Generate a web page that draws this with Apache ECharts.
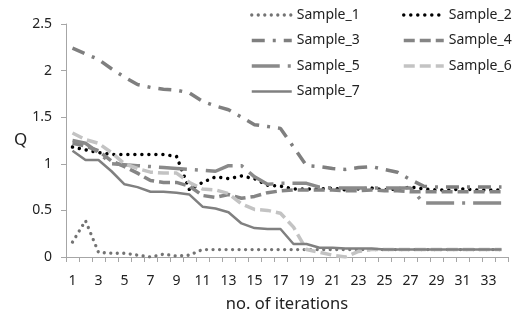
<!DOCTYPE html>
<html>
<head>
<meta charset="utf-8">
<script src="https://cdn.jsdelivr.net/npm/echarts@6/dist/echarts.min.js"></script>
<style>html,body{margin:0;padding:0;background:#fff}#c{width:522px;height:318px}</style>
</head>
<body>
<div id="c"></div>
<script>
const categories = ['1','2','3','4','5','6','7','8','9','10','11','12','13','14','15','16','17','18','19','20','21','22','23','24','25','26','27','28','29','30','31','32','33','34'];
const sample1 = [0.16,0.39,0.05,0.04,0.04,0.02,0.00,0.03,0.01,0.02,0.08,0.08,0.08,0.08,0.08,0.08,0.08,0.08,0.08,0.08,0.08,0.08,0.08,0.08,0.08,0.08,0.08,0.08,0.08,0.08,0.08,0.08,0.08,0.08];
const sample2 = [1.18,1.15,1.12,1.10,1.10,1.10,1.10,1.10,1.08,0.72,0.80,0.86,0.84,0.87,0.84,0.77,0.76,0.73,0.73,0.73,0.74,0.72,0.73,0.74,0.72,0.73,0.75,0.73,0.72,0.72,0.73,0.72,0.72,0.72];
const sample3 = [2.24,2.18,2.12,2.02,1.93,1.85,1.82,1.80,1.79,1.76,1.67,1.62,1.58,1.50,1.42,1.40,1.38,1.18,0.98,0.97,0.95,0.94,0.96,0.97,0.94,0.91,0.83,0.76,0.75,0.75,0.75,0.75,0.75,0.75];
const sample4 = [1.22,1.19,1.14,1.03,0.97,0.90,0.82,0.80,0.80,0.76,0.66,0.64,0.67,0.63,0.65,0.69,0.71,0.72,0.72,0.72,0.72,0.71,0.71,0.72,0.71,0.71,0.70,0.70,0.70,0.70,0.70,0.70,0.70,0.70];
const sample5 = [1.25,1.22,1.12,1.00,0.99,0.98,0.97,0.96,0.95,0.94,0.93,0.92,0.98,0.98,0.86,0.78,0.79,0.79,0.79,0.75,0.74,0.74,0.74,0.74,0.74,0.74,0.74,0.58,0.58,0.58,0.58,0.58,0.58,0.58];
const sample6 = [1.33,1.26,1.22,1.12,1.00,0.95,0.91,0.90,0.90,0.80,0.73,0.72,0.68,0.57,0.51,0.50,0.47,0.32,0.08,0.05,0.02,0.00,0.06,0.08,0.08,0.08,0.08,0.08,0.08,0.08,0.08,0.08,0.08,0.08];
const sample7 = [1.14,1.04,1.04,0.92,0.78,0.75,0.70,0.70,0.69,0.67,0.54,0.52,0.48,0.36,0.31,0.30,0.30,0.14,0.14,0.10,0.10,0.09,0.09,0.09,0.08,0.08,0.08,0.08,0.08,0.08,0.08,0.08,0.08,0.08];
const yTicks = {min: 0, max: 2.5, interval: 0.5};

const FONT = 'Noto Sans';
const axisGray = '#a6a6a6';

function mk(name, data, color, width, type, cap) {
  return {
    name: name, type: 'line', data: data, symbol: 'none', silent: true,
    lineStyle: {color: color, width: width, type: type, cap: cap || 'butt'},
    itemStyle: {color: color},
    animation: false
  };
}

const legendCommon = {
  orient: 'vertical', top: 3, itemWidth: 40, itemHeight: 14, itemGap: 11.5,
  textStyle: {fontFamily: FONT, fontSize: 14, color: '#222'},
  itemStyle: {opacity: 0},
  lineStyle: {width: 'inherit'}
};

const chart = echarts.init(document.getElementById('c'), null, {renderer: 'canvas'});
chart.setOption({
  animation: false,
  backgroundColor: '#fff',
  grid: {left: 66, right: 14, top: 24, bottom: 61, containLabel: false},
  legend: [
    Object.assign({}, legendCommon, {data: ['Sample_1','Sample_3','Sample_5','Sample_7'], left: 245}),
    Object.assign({}, legendCommon, {data: ['Sample_2','Sample_4','Sample_6'], left: 397})
  ],
  xAxis: {
    type: 'category', data: categories, boundaryGap: true,
    name: 'no. of iterations', nameLocation: 'middle', nameGap: 39,
    nameTextStyle: {fontFamily: FONT, fontSize: 16.5, color: '#222'},
    axisLine: {lineStyle: {color: axisGray, width: 1}},
    axisTick: {show: true, interval: 0, length: 5, lineStyle: {color: axisGray}},
    axisLabel: {interval: 1, margin: 17, fontFamily: FONT, fontSize: 14, color: '#222'},
    splitLine: {show: false}
  },
  yAxis: {
    type: 'value', min: yTicks.min, max: yTicks.max, interval: yTicks.interval,
    axisLine: {show: true, lineStyle: {color: axisGray, width: 1}},
    axisTick: {show: true, length: 5, lineStyle: {color: axisGray}},
    axisLabel: {margin: 14, fontFamily: FONT, fontSize: 14, color: '#222'},
    splitLine: {show: false}
  },
  graphic: [{type: 'text', left: 14, top: 132, style: {text: 'Q', font: '17px "Noto Sans"', fill: '#222'}}],
  series: [
    mk('Sample_1', sample1, '#737373', 3.3, [0.01, 6.5], 'round'),
    mk('Sample_2', sample2, '#000000', 3.5, [0.01, 7], 'round'),
    mk('Sample_3', sample3, '#7f7f7f', 3.5, [13, 8, 3, 8]),
    mk('Sample_4', sample4, '#858585', 3.5, [11, 5]),
    mk('Sample_5', sample5, '#8a8a8a', 3.5, [28, 8, 3, 8]),
    mk('Sample_6', sample6, '#c3c3c3', 3.5, [11, 5]),
    mk('Sample_7', sample7, '#808080', 2.5, 'solid')
  ]
});
</script>
</body>
</html>
